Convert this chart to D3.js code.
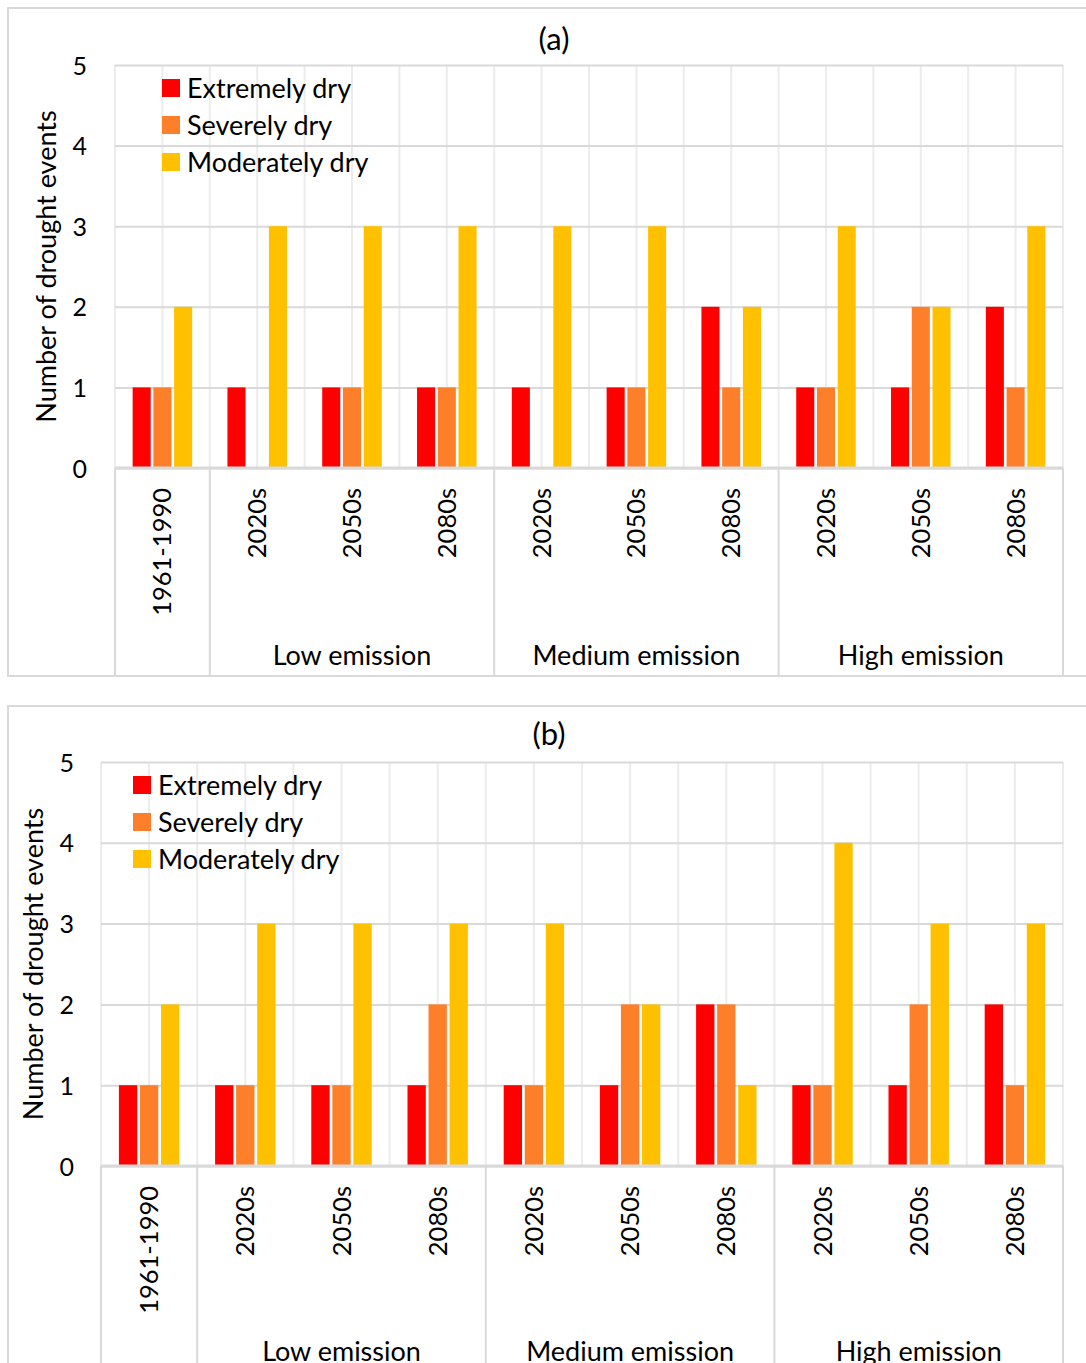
<!DOCTYPE html>
<html>
<head>
<meta charset="utf-8">
<script src="https://cdn.jsdelivr.net/npm/d3@7"></script>
<style>
  body { margin: 0; background: #fff; }
  text { font-family: Lato, "Open Sans", sans-serif; fill: #000; }
</style>
</head>
<body>
<svg width="1086" height="1363"></svg>
<script>
// categories and groups
var categories = ["1961-1990", "2020s", "2050s", "2080s", "2020s", "2050s", "2080s", "2020s", "2050s", "2080s"];
var groupNames = ["", "Low emission", "Medium emission", "High emission"];
var groupSizes = [1, 3, 3, 3];
var seriesNames = ["Extremely dry", "Severely dry", "Moderately dry"];
var seriesColors = ["#ff0000", "#fd7f29", "#ffc000"];
var yTicks = [0, 1, 2, 3, 4, 5];

// panel (a)
var aExtreme  = [1, 1, 1, 1, 1, 1, 2, 1, 1, 2];
var aSevere   = [1, 0, 1, 1, 0, 1, 1, 1, 2, 1];
var aModerate = [2, 3, 3, 3, 3, 3, 2, 3, 2, 3];

// panel (b)
var bExtreme  = [1, 1, 1, 1, 1, 1, 2, 1, 1, 2];
var bSevere   = [1, 1, 1, 2, 1, 2, 2, 1, 2, 1];
var bModerate = [2, 3, 3, 3, 3, 2, 1, 4, 3, 3];

var svg = d3.select("svg");

var panelA = {title: "(a)", top: 8, bottom: 676, left: 8, right: 1100, titleX: 554, titleY: 50,
  plotL: 115, plotR: 1063, plotT: 65, plotB: 468, tickX: 87, yTitleX: 56,
  legendX: 162, legendY: 88, groupY: 665};
var panelB = {title: "(b)", top: 706, bottom: 1380, left: 8, right: 1090, titleX: 549, titleY: 745,
  plotL: 101, plotR: 1063, plotT: 762, plotB: 1166, tickX: 74, yTitleX: 43,
  legendX: 133, legendY: 785, groupY: 1361};

function drawPanel(p, series) {
  var g = svg.append("g");

  // outer chart border
  g.append("rect")
    .attr("x", p.left).attr("y", p.top)
    .attr("width", p.right - p.left).attr("height", p.bottom - p.top)
    .attr("fill", "#fff")
    .attr("stroke", "#d9d9d9")
    .attr("stroke-width", 2);

  var x0 = d3.scaleBand()
    .domain(d3.range(categories.length))
    .range([p.plotL, p.plotR])
    .padding(0);

  var x1 = d3.scaleBand()
    .domain(seriesNames)
    .range([0, x0.bandwidth()])
    .paddingInner(0.13)
    .paddingOuter(0.85);

  var y = d3.scaleLinear()
    .domain([0, 5])
    .range([p.plotB, p.plotT]);

  // vertical gridlines, at category edges and centres
  var vLines = [];
  categories.forEach(function(c, i) {
    vLines.push(x0(i));
    vLines.push(x0(i) + x0.bandwidth() / 2);
  });
  vLines.push(p.plotR);
  g.append("g").selectAll("line")
    .data(vLines)
    .join("line")
    .attr("x1", function(d) { return d; })
    .attr("x2", function(d) { return d; })
    .attr("y1", p.plotT).attr("y2", p.plotB)
    .attr("stroke", "#ececec")
    .attr("stroke-width", 2);

  // horizontal gridlines + tick labels
  var yAxis = g.append("g")
    .attr("transform", "translate(" + p.plotL + ",0)")
    .call(d3.axisLeft(y).tickValues(yTicks).tickFormat(d3.format("d"))
      .tickSize(-(p.plotR - p.plotL)).tickPadding(0));
  yAxis.select(".domain").remove();
  yAxis.selectAll(".tick line")
    .attr("stroke", "#d9d9d9")
    .attr("stroke-width", 2);
  yAxis.selectAll(".tick text")
    .attr("x", p.tickX - p.plotL)
    .attr("dy", "0.36em")
    .style("font-size", "25px")
    .style("font-family", "Lato, sans-serif")
    .attr("fill", "#000");

  // bars
  var rows = categories.map(function(c, i) {
    return seriesNames.map(function(s, k) { return {s: s, k: k, v: series[k][i]}; });
  });
  g.append("g").selectAll("g")
    .data(rows)
    .join("g")
    .attr("transform", function(d, i) { return "translate(" + x0(i) + ",0)"; })
    .selectAll("rect")
    .data(function(d) { return d.filter(function(e) { return e.v > 0; }); })
    .join("rect")
    .attr("x", function(d) { return x1(d.s); })
    .attr("y", function(d) { return y(d.v); })
    .attr("width", x1.bandwidth())
    .attr("height", function(d) { return y(0) - y(d.v); })
    .attr("fill", function(d) { return seriesColors[d.k]; });

  // category axis line and group separators
  g.append("line")
    .attr("x1", p.plotL).attr("x2", p.plotR)
    .attr("y1", y(0)).attr("y2", y(0))
    .attr("stroke", "#d9d9d9")
    .attr("stroke-width", 3);

  var seps = [0];
  var acc = 0;
  groupSizes.forEach(function(n) { acc += n; seps.push(acc); });
  g.append("g").selectAll("line")
    .data(seps)
    .join("line")
    .attr("x1", function(d) { return d < categories.length ? x0(d) : p.plotR; })
    .attr("x2", function(d) { return d < categories.length ? x0(d) : p.plotR; })
    .attr("y1", y(0)).attr("y2", p.bottom)
    .attr("stroke", "#d9d9d9")
    .attr("stroke-width", 2);

  // category labels, rotated
  g.append("g").selectAll("text")
    .data(categories)
    .join("text")
    .attr("transform", function(d, i) {
      return "translate(" + (x0(i) + x0.bandwidth() / 2 + 9) + "," + (y(0) + 20) + ") rotate(-90)";
    })
    .attr("text-anchor", "end")
    .style("font-size", "25.5px")
    .text(function(d) { return d; });

  // group labels
  g.append("g").selectAll("text")
    .data(groupNames)
    .join("text")
    .attr("x", function(d, j) {
      var s = d3.sum(groupSizes.slice(0, j));
      return (x0(s) + x0(s + groupSizes[j] - 1) + x0.bandwidth()) / 2;
    })
    .attr("y", p.groupY)
    .attr("text-anchor", "middle")
    .style("font-size", "27px")
    .text(function(d) { return d; });

  // title
  g.append("text")
    .attr("x", p.titleX).attr("y", p.titleY)
    .attr("text-anchor", "middle")
    .style("font-size", "31px")
    .text(p.title);

  // y axis title
  g.append("text")
    .attr("transform", "translate(" + p.yTitleX + "," + (p.plotT + p.plotB) / 2 + ") rotate(-90)")
    .attr("text-anchor", "middle")
    .style("font-size", "27px")
    .text("Number of drought events");

  // legend
  var leg = g.append("g").selectAll("g")
    .data(seriesNames)
    .join("g")
    .attr("transform", function(d, k) { return "translate(" + p.legendX + "," + (p.legendY + k * 37) + ")"; });
  leg.append("rect")
    .attr("x", 0).attr("y", -9)
    .attr("width", 18).attr("height", 18)
    .attr("fill", function(d, k) { return seriesColors[k]; });
  leg.append("text")
    .attr("x", 25).attr("dy", "0.36em")
    .style("font-size", "27px")
    .text(function(d) { return d; });
}

drawPanel(panelA, [aExtreme, aSevere, aModerate]);
drawPanel(panelB, [bExtreme, bSevere, bModerate]);
</script>
</body>
</html>
